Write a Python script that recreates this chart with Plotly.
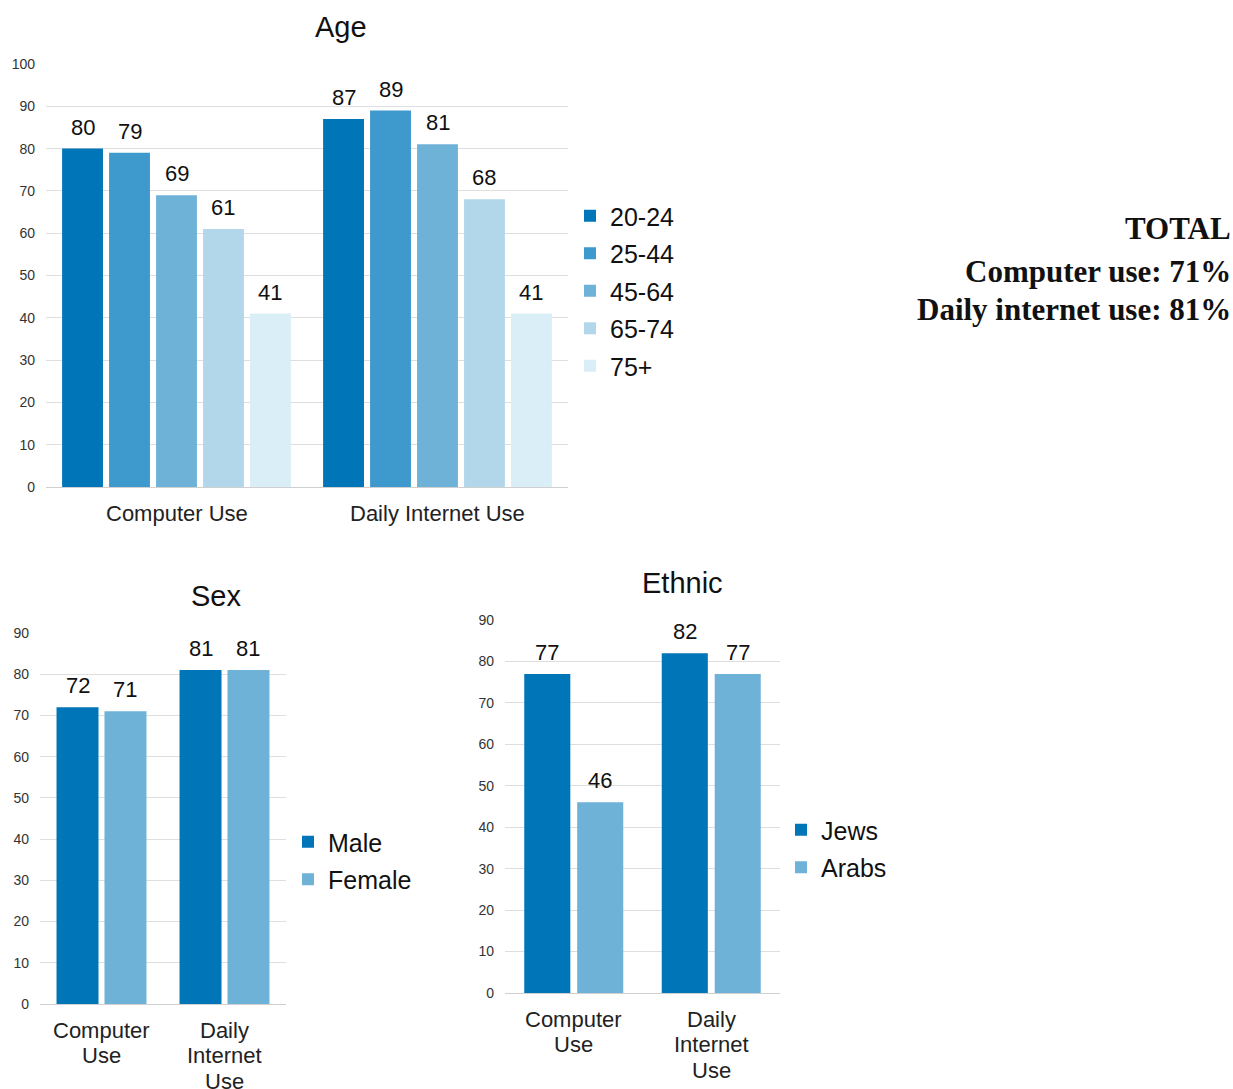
import plotly.graph_objects as go

# ---- data ----
categories = ["Computer Use", "Daily Internet Use"]
tick_two_line = ["Computer<br>Use", "Daily<br>Internet<br>Use"]

age_groups = ["20-24", "25-44", "45-64", "65-74", "75+"]
age_computer = [80, 79, 69, 61, 41]
age_internet = [87, 89, 81, 68, 41]

sex_groups = ["Male", "Female"]
sex_computer = [72, 71]
sex_internet = [81, 81]

ethnic_groups = ["Jews", "Arabs"]
ethnic_computer = [77, 46]
ethnic_internet = [82, 77]

total_computer = 71
total_internet = 81

# ---- styles ----
age_colors = ["#0075b8", "#3e99cc", "#6fb2d8", "#b3d7ea", "#daeef7"]
pair_colors = ["#0075b8", "#6fb2d8"]
FONT = "Liberation Sans, Arial, sans-serif"
W, H = 1233, 1089


def slot_geometry(n, group_frac, group_gap):
    """Return (width, offsets) for n bars sharing a category slot."""
    slot = group_frac / n
    width = slot * (1 - group_gap)
    offsets = [-group_frac / 2 + i * slot + slot * group_gap / 2 for i in range(n)]
    return width, offsets


fig = go.Figure()


def add_group(names, comp, inet, colors, xaxis, yaxis, legend, group_frac, group_gap, ticks):
    width, offsets = slot_geometry(len(names), group_frac, group_gap)
    for i, name in enumerate(names):
        vals = [comp[i], inet[i]]
        fig.add_trace(go.Bar(
            x=ticks, y=vals, name=name,
            marker=dict(color=colors[i], line=dict(width=0)),
            width=width, offset=offsets[i],
            xaxis=xaxis, yaxis=yaxis, legend=legend,
            legendgroup=f"{legend}-{name}",
            hoverinfo="y+name",
        ))
        # value labels above each bar
        for c, v in enumerate(vals):
            fig.add_annotation(
                x=c + offsets[i] + width / 2, y=v,
                xref=xaxis, yref=yaxis, text=str(v),
                xanchor="center", yanchor="bottom", yshift=7, showarrow=False,
                font=dict(family=FONT, size=22, color="#111111"),
            )


def add_category_labels(ticks, xaxis, yaxis, line_gap=25.5, first=26):
    # multi-line category labels with tight line spacing
    for c, label in enumerate(ticks):
        for j, line in enumerate(label.split("<br>")):
            fig.add_annotation(
                x=c, y=0, xref=xaxis, yref=yaxis, text=line,
                xanchor="center", yanchor="middle", yshift=-(first + j * line_gap),
                showarrow=False,
                font=dict(family=FONT, size=22, color="#222222"),
            )


add_group(age_groups, age_computer, age_internet, age_colors, "x", "y", "legend",
          0.90, 0.13, categories)
add_group(sex_groups, sex_computer, sex_internet, pair_colors, "x2", "y2", "legend2",
          0.78, 0.125, tick_two_line)
add_group(ethnic_groups, ethnic_computer, ethnic_internet, pair_colors, "x3", "y3", "legend3",
          0.77, 0.13, tick_two_line)

add_category_labels(categories, "x", "y")
add_category_labels(tick_two_line, "x2", "y2")
add_category_labels(tick_two_line, "x3", "y3")


def xaxis_style(domain):
    return dict(domain=domain, type="category", showgrid=False, ticks="",
                showticklabels=False,
                showline=True, linecolor="#d0d0d0", linewidth=1,
                fixedrange=True, automargin=False)


def yaxis_style(domain, anchor, top):
    return dict(domain=domain, anchor=anchor, range=[0, top], dtick=10,
                showgrid=True, gridcolor="#dedede", gridwidth=1,
                zeroline=False, showline=False, ticks="",
                tickfont=dict(family=FONT, size=14, color="#333333"),
                ticklabelstandoff=10, fixedrange=True, automargin=False)


def px(x):
    return x / W


def py(y):
    return 1 - y / H


legend_font = dict(family=FONT, size=25, color="#111111")

fig.update_layout(
    width=W, height=H,
    margin=dict(l=0, r=0, t=0, b=0, pad=0, autoexpand=False),
    paper_bgcolor="white", plot_bgcolor="white",
    barmode="overlay",
    font=dict(family=FONT, color="#111111"),
    xaxis=dict(**xaxis_style([px(46), px(568)]), anchor="y"),
    yaxis=yaxis_style([py(487), py(64)], "x", 100),
    xaxis2=dict(**xaxis_style([px(40), px(286)]), anchor="y2"),
    yaxis2=yaxis_style([py(1004), py(633)], "x2", 90),
    xaxis3=dict(**xaxis_style([px(505), px(780)]), anchor="y3"),
    yaxis3=yaxis_style([py(993), py(620)], "x3", 90),
    legend=dict(x=px(570), y=py(193), xanchor="left", yanchor="top",
                traceorder="grouped", tracegroupgap=2, itemwidth=30,
                font=legend_font),
    legend2=dict(x=px(288), y=py(819), xanchor="left", yanchor="top",
                 traceorder="grouped", tracegroupgap=2, itemwidth=30,
                 font=legend_font),
    legend3=dict(x=px(781), y=py(807), xanchor="left", yanchor="top",
                 traceorder="grouped", tracegroupgap=2, itemwidth=30,
                 font=legend_font),
)

titles = [("Age", 341, 27), ("Sex", 216, 596), ("Ethnic", 683, 583)]
for text, x, y in titles:
    fig.add_annotation(text=text, x=px(x), y=py(y), xref="paper", yref="paper",
                       xanchor="center", yanchor="middle", showarrow=False,
                       font=dict(family=FONT, size=29, color="#111111"))

SERIF = "Liberation Serif, Times New Roman, serif"
total_lines = [
    ("TOTAL", 228),
    (f"Computer use: {total_computer}%", 272),
    (f"Daily internet use: {total_internet}%", 309),
]
for text, y in total_lines:
    fig.add_annotation(text=f"<b>{text}</b>", x=px(1233), y=py(y), xref="paper", yref="paper",
                       xanchor="right", yanchor="middle", showarrow=False,
                       font=dict(family=SERIF, size=31, color="#111111"))

fig.write_html("out.html")
